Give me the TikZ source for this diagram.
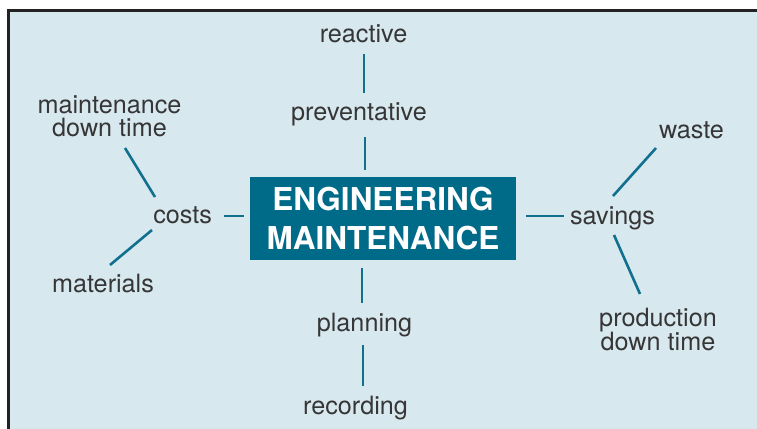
\documentclass[tikz,border=0pt]{standalone}
\usepackage{fontspec}
\setmainfont{TeX Gyre Heros}
\definecolor{bgblue}{HTML}{D8E8EF}
\definecolor{boxteal}{HTML}{006B89}
\definecolor{lineteal}{HTML}{10708E}
\definecolor{txt}{HTML}{363636}
\definecolor{frame}{HTML}{222222}
\tikzset{
  lbl/.style={text=txt, inner sep=0pt, font=\fontsize{25.2}{23.5}\selectfont, align=center},
  link/.style={draw=lineteal, line width=2.6pt},
  centrebox/.style={fill=boxteal, text=white, inner sep=0pt, minimum width=266pt, minimum height=83pt,
    font=\fontsize{31.5}{39}\bfseries\selectfont, align=center}
}
\begin{document}
\begin{tikzpicture}[x=1pt,y=-1pt]
\useasboundingbox (0,0) rectangle (757,428);
\fill[bgblue] (8.5,10.5) rectangle (770,440);
\draw[frame, line width=3pt] (8.5,440) -- (8.5,10.5) -- (770,10.5);

\node[centrebox] (em) at (383,218.5) {ENGINEERING\\MAINTENANCE};

\node[lbl, anchor=base] (reactive) at (363.5,42) {reactive};
\node[lbl, anchor=base] (prev) at (359,120) {preventative};
\node[lbl, anchor=base] (plan) at (364.5,331) {planning};
\node[lbl, anchor=base] (rec) at (355.5,414) {recording};
\node[lbl, anchor=base] (costs) at (182.7,223) {costs};
\node[lbl] (mdt) at (109.5,116.5) {maintenance\\down time};
\node[lbl, anchor=base] (mat) at (103,292) {materials};
\node[lbl, anchor=base] (sav) at (612.5,224) {savings};
\node[lbl, anchor=base] (waste) at (691.5,138) {waste};
\node[lbl] (pdt) at (658,329.5) {production\\down time};

% connector end points
\coordinate (r1) at (364,54);   \coordinate (r2) at (364,93);
\coordinate (p1) at (365,137);  \coordinate (p2) at (365,170);
\coordinate (b1) at (362,268);  \coordinate (b2) at (362,303);
\coordinate (q1) at (363,345);  \coordinate (q2) at (363,386);
\coordinate (c1) at (224,216);  \coordinate (c2) at (244,216);
\coordinate (m1) at (125,148);  \coordinate (m2) at (155,197);
\coordinate (t1) at (110,265);  \coordinate (t2) at (152,230);
\coordinate (s1) at (526,216);  \coordinate (s2) at (564,216);
\coordinate (w1) at (613,196);  \coordinate (w2) at (656,148);
\coordinate (d1) at (614,235);  \coordinate (d2) at (640,294);

\draw[link] (r1) -- (r2);
\draw[link] (p1) -- (p2);
\draw[link] (b1) -- (b2);
\draw[link] (q1) -- (q2);
\draw[link] (c1) -- (c2);
\draw[link] (m1) -- (m2);
\draw[link] (t1) -- (t2);
\draw[link] (s1) -- (s2);
\draw[link] (w1) -- (w2);
\draw[link] (d1) -- (d2);
\end{tikzpicture}
\end{document}
